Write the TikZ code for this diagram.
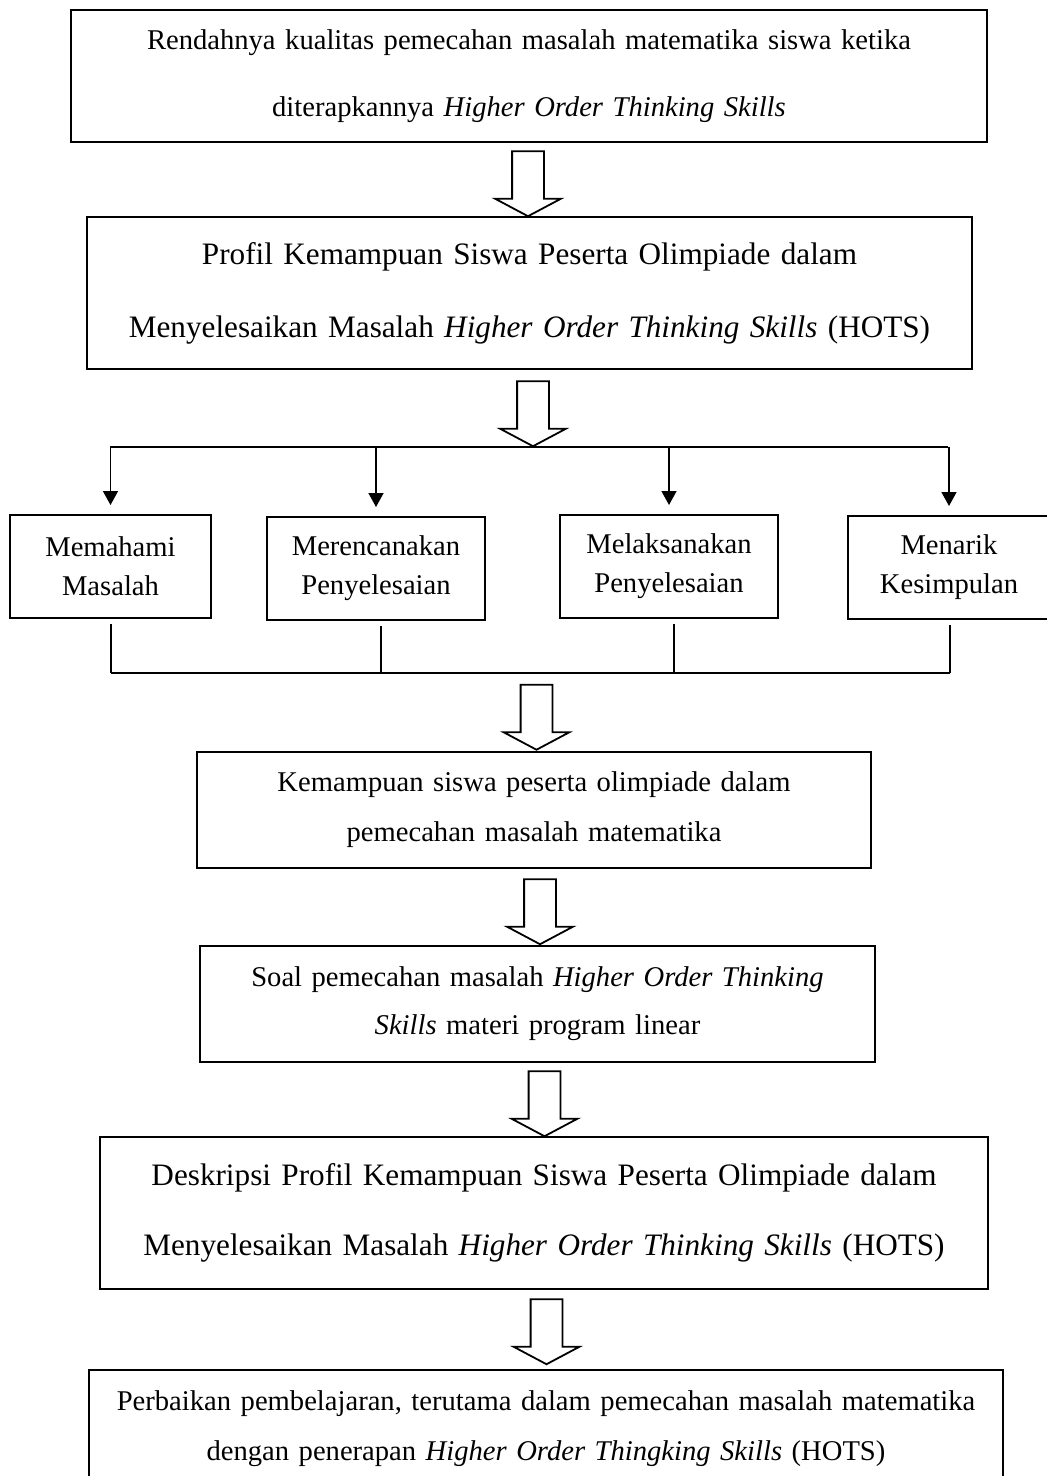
\documentclass[tikz,border=0pt]{standalone}
\usepackage{fontspec}
\setmainfont{Liberation Serif}
\usetikzlibrary{arrows.meta,shapes.arrows}

\begin{document}
\begin{tikzpicture}[x=0.5pt, y=-0.5pt, >={Triangle[length=7pt,width=7.5pt]},
  box/.style={draw, line width=1pt, inner sep=0pt, align=center},
  smallbox/.style={box, minimum height=51.5pt, font=\fontsize{14.3}{19.5}\selectfont},
  hollow/.style={draw, line width=0.9pt, shape=single arrow, shape border rotate=270,
    inner sep=7.5pt, minimum height=32.5pt, single arrow head extend=8.5pt,
    single arrow tip angle=124},
  link/.style={line width=0.75pt}]
\useasboundingbox (0,0) rectangle (1046,1476);
% Kotak utama
\node[box, minimum width=458pt, minimum height=66pt, text width=440pt,
  font=\fontsize{14.3}{33.5}\selectfont] (rend) at (529,76)
  {Rendahnya kualitas pemecahan masalah matematika siswa ketika\\
   diterapkannya \textit{Higher Order Thinking Skills}};
\node[box, minimum width=442.5pt, minimum height=76pt, text width=430pt,
  font=\fontsize{15.6}{36.5}\selectfont] (prof) at (529.5,293)
  {Profil Kemampuan Siswa Peserta Olimpiade dalam\\
   Menyelesaikan Masalah \textit{Higher Order Thinking Skills} (HOTS)};
% Empat langkah
\node[smallbox, minimum width=100.5pt, text width=95pt] (mem) at (110.5,566.5) {Memahami\\ Masalah};
\node[smallbox, minimum width=109pt, text width=100pt] (mer) at (376,568.5) {Merencanakan\\ Penyelesaian};
\node[smallbox, minimum width=109pt, text width=100pt] (mel) at (669,566.5) {Melaksanakan\\ Penyelesaian};
\node[smallbox, minimum width=101pt, text width=95pt] (men) at (949,567.5) {Menarik\\ Kesimpulan};
\node[box, minimum width=337pt, minimum height=58pt, text width=330pt,
  font=\fontsize{14.3}{25}\selectfont] (kem) at (534,810)
  {Kemampuan siswa peserta olimpiade dalam\\ pemecahan masalah matematika};
\node[box, minimum width=337.5pt, minimum height=58pt, text width=330pt,
  font=\fontsize{14.3}{24}\selectfont] (soal) at (537.5,1004)
  {Soal pemecahan masalah \textit{Higher Order Thinking}\\
   \textit{Skills} materi program linear};
\node[box, minimum width=444pt, minimum height=76pt, text width=435pt,
  font=\fontsize{15.6}{35}\selectfont] (desk) at (544,1213)
  {Deskripsi Profil Kemampuan Siswa Peserta Olimpiade dalam\\
   Menyelesaikan Masalah \textit{Higher Order Thinking Skills} (HOTS)};
\node[box, minimum width=457pt, minimum height=59pt, text width=450pt,
  font=\fontsize{14.3}{25}\selectfont] (perb) at (546,1429)
  {Perbaikan pembelajaran, terutama dalam pemecahan masalah matematika\\
   dengan penerapan \textit{Higher Order Thingking Skills} (HOTS)};
% Panah besar
\node[hollow] (a1) at (528,179.5) {};
\node[hollow] (a2) at (533,409.5) {};
\node[hollow] (a3) at (536.5,713) {};
\node[hollow] (a4) at (540,907.5) {};
\node[hollow] (a5) at (544.5,1099.5) {};
\node[hollow] (a6) at (546.5,1327.5) {};
% Cabang atas dan garis bawah
\coordinate (fanL) at (110,447);
\coordinate (fanR) at (948,447);
\coordinate (joinL) at (111,673);
\coordinate (joinR) at (950,673);
\draw[link] (fanL) -- (fanR);
\foreach \n in {mem,mer,mel,men}
  \draw[link, ->, shorten >=4.5pt] (\n.north |- fanL) -- (\n.north);
\draw[link] (joinL) -- (joinR);
\foreach \n/\dx in {mem/0.25pt,mer/2.5pt,mel/2.5pt,men/0.5pt}
  \draw[link, shorten <=2.5pt] ([xshift=\dx]\n.south) -- ([xshift=\dx]\n.south |- joinL);
\end{tikzpicture}
\end{document}
